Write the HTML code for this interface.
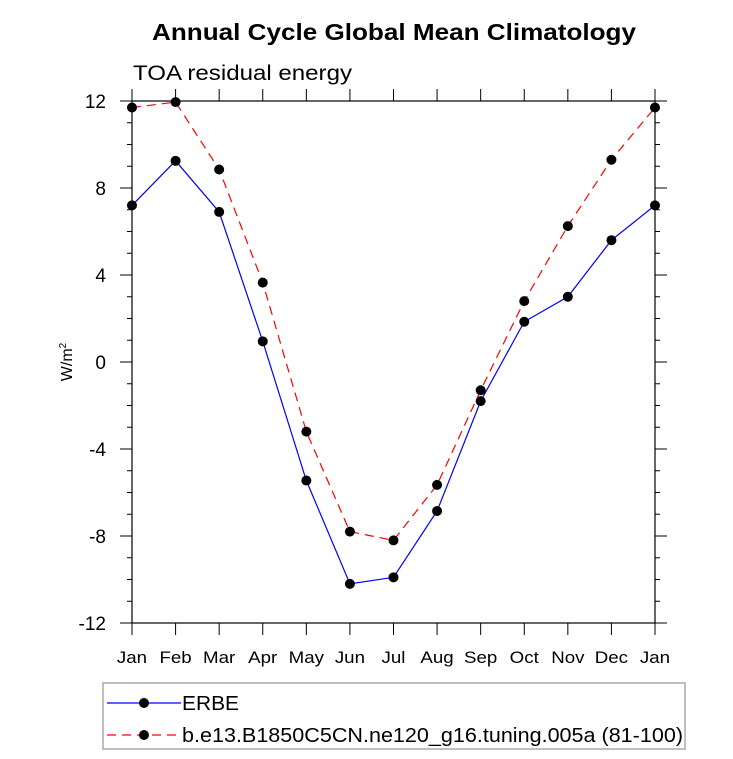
<!DOCTYPE html>
<html><head><meta charset="utf-8"><style>
body{margin:0;background:#fff;}
svg{display:block;font-family:"Liberation Sans",sans-serif;}
</style></head><body>
<svg id="chart" width="733" height="759">
<text x="152" y="40" font-size="23" font-weight="bold" textLength="484" lengthAdjust="spacingAndGlyphs">Annual Cycle Global Mean Climatology</text>
<text x="133" y="80" font-size="21" textLength="219" lengthAdjust="spacingAndGlyphs">TOA residual energy</text>
<text transform="translate(72,362) rotate(-90)" text-anchor="middle" font-size="16">W/m<tspan dy="-6" font-size="10">2</tspan></text>
<g id="axes"></g>
<g id="series"></g>
<rect x="103" y="683" width="582" height="66" fill="none" stroke="#aaa" stroke-width="1.5"/>
<g>
<line x1="107" y1="703" x2="181" y2="703" stroke="#0000ff" stroke-width="1.2"/>
<circle cx="144" cy="703" r="5" fill="#000"/>
<text x="182" y="710" font-size="20" textLength="57" lengthAdjust="spacingAndGlyphs">ERBE</text>
</g>
<g>
<line x1="107" y1="735" x2="181" y2="735" stroke="#ff0000" stroke-width="1.2" stroke-dasharray="9,6"/>
<circle cx="144" cy="735" r="5" fill="#000"/>
<text x="182" y="742" font-size="20" textLength="501" lengthAdjust="spacingAndGlyphs">b.e13.B1850C5CN.ne120_g16.tuning.005a (81-100)</text>
</g>
</svg>
<script>
const months=["Jan","Feb","Mar","Apr","May","Jun","Jul","Aug","Sep","Oct","Nov","Dec","Jan"];
const erbe=[7.2,9.25,6.9,0.95,-5.45,-10.2,-9.9,-6.85,-1.8,1.85,3.0,5.6,7.2];
const model=[11.7,11.95,8.85,3.65,-3.2,-7.8,-8.2,-5.65,-1.3,2.8,6.25,9.3,11.7];
const yTicks=[-12,-8,-4,0,4,8,12];
const L=132,R=655,T=101,B=623,ymin=-12,ymax=12;
const xs=i=>L+(R-L)*i/(months.length-1);
const ys=v=>B-(v-ymin)/(ymax-ymin)*(B-T);
const NS="http://www.w3.org/2000/svg";
function mk(tag,attrs,parent){const e=document.createElementNS(NS,tag);for(const k in attrs)e.setAttribute(k,attrs[k]);parent.appendChild(e);return e;}
const ax=document.getElementById('axes');
const frame=mk('rect',{x:L,y:T,width:R-L,height:B-T,fill:'none',stroke:'#000','stroke-width':1.2},ax);


for(let v=ymin;v<=ymax;v++){
  const major=yTicks.includes(v);const len=major?12:5;const y=ys(v);
  mk('line',{x1:L-len,y1:y,x2:L,y2:y,stroke:'#000','stroke-width':1},ax);
  mk('line',{x1:R,y1:y,x2:R+len,y2:y,stroke:'#000','stroke-width':1},ax);
}
yTicks.forEach(v=>{
  const t=mk('text',{x:L-26,y:ys(v)+7,'text-anchor':'end','font-size':19},ax);
  t.textContent=v;
  
  
});
months.forEach((m,i)=>{
  const x=xs(i);
  mk('line',{x1:x,y1:B,x2:x,y2:B+12,stroke:'#000','stroke-width':1},ax);
  mk('line',{x1:x,y1:T-12,x2:x,y2:T,stroke:'#000','stroke-width':1},ax);
  const t=mk('text',{x:x,y:B+40,'text-anchor':'middle','font-size':17},ax);
  t.textContent=m;
  
  
  const w=t.getComputedTextLength();
  if(w>0){t.setAttribute('textLength',w*1.1);t.setAttribute('lengthAdjust','spacingAndGlyphs');}
});
const sg=document.getElementById('series');
function draw(vals,color,dash,name){
  const g=mk('g',{},sg);
  
  
  const pts=vals.map((v,i)=>xs(i)+','+ys(v)).join(' ');
  const a={points:pts,fill:'none',stroke:color,'stroke-width':1.2};
  if(dash)a['stroke-dasharray']=dash;
  mk('polyline',a,g);
  vals.forEach((v,i)=>{
    const c=mk('circle',{cx:xs(i),cy:ys(v),r:5,fill:'#000'},g);
    
    
  });
}
draw(erbe,'#0000ff',null,'series-erbe');
draw(model,'#ff0000','9,6','series-model');
</script>
</body></html>
